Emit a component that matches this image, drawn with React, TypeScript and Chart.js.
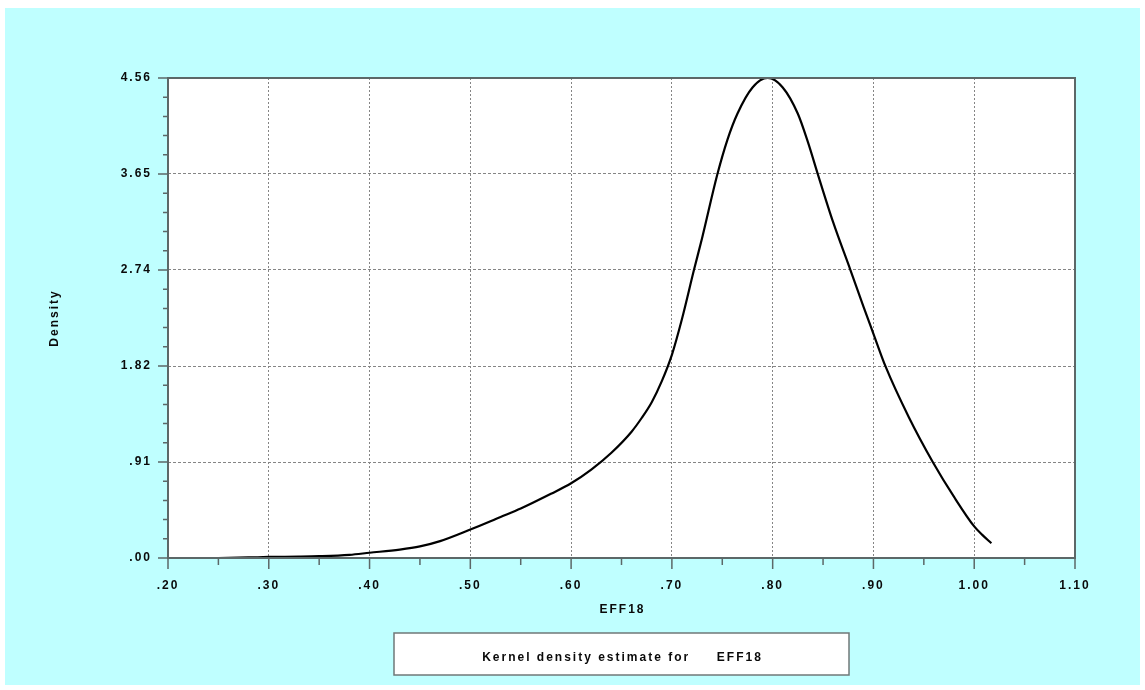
import React, { useEffect, useRef } from 'react';
import { Chart, registerables } from 'chart.js';

Chart.register(...registerables);

// Kernel density estimate
const kdeX = [0.25, 0.28, 0.30, 0.33, 0.35, 0.38, 0.40, 0.43, 0.45, 0.47, 0.50, 0.53, 0.55, 0.58, 0.60, 0.62, 0.64, 0.66, 0.67, 0.68, 0.69, 0.70, 0.71, 0.722, 0.73, 0.745, 0.755, 0.765, 0.78, 0.795, 0.81, 0.825, 0.835, 0.845, 0.86, 0.877, 0.89, 0.90, 0.912, 0.935, 0.959, 0.98, 1.00, 1.008, 1.017];
const kdeY = [0.00, 0.005, 0.01, 0.013, 0.017, 0.03, 0.05, 0.08, 0.11, 0.16, 0.27, 0.39, 0.47, 0.61, 0.71, 0.84, 1.00, 1.20, 1.33, 1.48, 1.68, 1.93, 2.27, 2.74, 3.04, 3.64, 3.97, 4.22, 4.47, 4.56, 4.47, 4.22, 3.95, 3.64, 3.19, 2.74, 2.39, 2.13, 1.82, 1.34, 0.91, 0.58, 0.30, 0.22, 0.14];

const xTickValues = [0.2, 0.3, 0.4, 0.5, 0.6, 0.7, 0.8, 0.9, 1.0, 1.1];
const xTickLabels = ['.20', '.30', '.40', '.50', '.60', '.70', '.80', '.90', '1.00', '1.10'];
const yTickValues = [0, 0.912, 1.824, 2.736, 3.648, 4.56];
const yTickLabels = ['.00', '.91', '1.82', '2.74', '3.65', '4.56'];

const xTitle = 'EFF18';
const yTitle = 'Density';
const legendText = 'Kernel density estimate for     EFF18';

const FONT = '"Liberation Sans", Arial, Helvetica, sans-serif';
const CYAN = '#bfffff';
const AXIS = '#5c6868';
const TEXT = '#0a0a0a';
const SPACING = '2px';

const decorPlugin = {
  id: 'decor',
  beforeDraw(chart: any) {
    const { ctx, chartArea: a } = chart;
    ctx.save();
    ctx.fillStyle = '#ffffff';
    ctx.fillRect(a.left, a.top, a.right - a.left, a.bottom - a.top);
    ctx.restore();
    ctx.letterSpacing = SPACING;
  },
  afterDraw(chart: any) {
    const { ctx, chartArea: a, scales } = chart;
    const xs = scales.x;
    const ys = scales.y;
    ctx.save();
    // plot frame
    ctx.strokeStyle = AXIS;
    ctx.lineWidth = 2;
    ctx.strokeRect(a.left, a.top, a.right - a.left, a.bottom - a.top);
    // tick marks
    ctx.beginPath();
    yTickValues.forEach((v, i) => {
      const p = ys.getPixelForValue(v);
      ctx.moveTo(a.left - 10, p);
      ctx.lineTo(a.left, p);
      if (i < yTickValues.length - 1) {
        const step = (yTickValues[i + 1] - v) / 5;
        for (let k = 1; k < 5; k++) {
          const q = ys.getPixelForValue(v + step * k);
          ctx.moveTo(a.left - 5, q);
          ctx.lineTo(a.left, q);
        }
      }
    });
    xTickValues.forEach((v, i) => {
      const p = xs.getPixelForValue(v);
      ctx.moveTo(p, a.bottom);
      ctx.lineTo(p, a.bottom + 11);
      if (i < xTickValues.length - 1) {
        const q = xs.getPixelForValue((v + xTickValues[i + 1]) / 2);
        ctx.moveTo(q, a.bottom);
        ctx.lineTo(q, a.bottom + 7);
      }
    });
    ctx.lineWidth = 1.5;
    ctx.stroke();

    ctx.fillStyle = TEXT;
    ctx.font = `bold 12px ${FONT}`;
    ctx.letterSpacing = SPACING;
    ctx.textAlign = 'center';
    ctx.textBaseline = 'middle';
    const cx = (a.left + a.right) / 2;
    // x title
    ctx.fillText(xTitle, cx + 1, a.bottom + 52);
    // y title
    ctx.save();
    ctx.translate(50, (a.top + a.bottom) / 2);
    ctx.rotate(-Math.PI / 2);
    ctx.fillText(yTitle, 0, 0);
    ctx.restore();
    // legend box
    const bw = 455;
    const bh = 42;
    const bx = cx - bw / 2;
    const by = a.bottom + 75;
    ctx.fillStyle = '#ffffff';
    ctx.fillRect(bx, by, bw, bh);
    ctx.strokeStyle = '#707878';
    ctx.lineWidth = 1.5;
    ctx.strokeRect(bx, by, bw, bh);
    ctx.fillStyle = TEXT;
    ctx.fillText(legendText, cx + 1, by + 25);
    ctx.restore();
  },
};

export default function App() {
  const ref = useRef<HTMLCanvasElement | null>(null);
  useEffect(() => {
    if (!ref.current) return;
    const chart = new Chart(ref.current, {
      type: 'line',
      data: {
        datasets: [
          {
            label: 'EFF18',
            data: kdeX.map((x, i) => ({ x, y: kdeY[i] })),
            borderColor: '#000000',
            borderWidth: 2.2,
            pointRadius: 0,
            fill: false,
            cubicInterpolationMode: 'monotone',
          },
        ],
      },
      options: {
        animation: false,
        responsive: false,
        devicePixelRatio: 1,
        layout: { padding: { left: 0, right: 65, top: 70, bottom: 0 } },
        plugins: { legend: { display: false }, tooltip: { enabled: false } },
        scales: {
          x: {
            type: 'linear',
            min: 0.2,
            max: 1.1,
            afterFit: (s: any) => { s.height = 127; },
            afterBuildTicks: (s: any) => { s.ticks = xTickValues.map((v) => ({ value: v })); },
            ticks: {
              autoSkip: false,
              maxRotation: 0,
              padding: 20,
              color: TEXT,
              font: { family: FONT, size: 12, weight: 'bold' },
              callback: (_v: any, i: number) => xTickLabels[i],
            },
            grid: {
              drawTicks: false,
              color: (c: any) => (c.index === 0 || c.index === xTickValues.length - 1 ? 'rgba(0,0,0,0)' : '#858585'),
              lineWidth: 1,
            },
            border: { display: false, dash: [2, 2] },
          },
          y: {
            type: 'linear',
            min: 0,
            max: 4.56,
            afterFit: (s: any) => { s.width = 163; },
            afterBuildTicks: (s: any) => { s.ticks = yTickValues.map((v) => ({ value: v })); },
            ticks: {
              autoSkip: false,
              padding: 16,
              color: TEXT,
              font: { family: FONT, size: 12, weight: 'bold' },
              callback: (_v: any, i: number) => yTickLabels[i],
            },
            grid: {
              drawTicks: false,
              color: (c: any) => (c.index === 0 || c.index === yTickValues.length - 1 ? 'rgba(0,0,0,0)' : '#858585'),
              lineWidth: 1,
            },
            border: { display: false, dash: [3, 2] },
          },
        },
      },
      plugins: [decorPlugin],
    } as any);
    return () => chart.destroy();
  }, []);

  return (
    <div style={{ position: 'absolute', left: 5, top: 8, width: 1135, height: 677, background: CYAN }}>
      <canvas ref={ref} width={1135} height={677} style={{ display: 'block' }} />
    </div>
  );
}
